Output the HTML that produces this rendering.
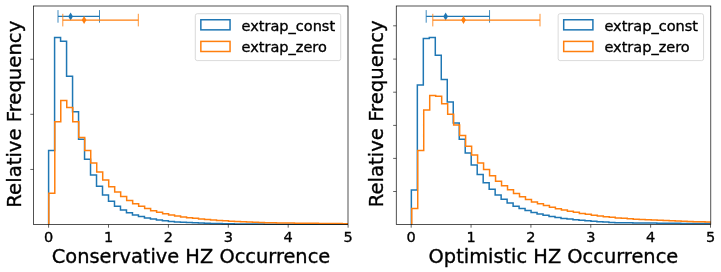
<!DOCTYPE html><html><head><meta charset="utf-8"><title>HZ Occurrence</title><style>html,body{margin:0;padding:0;background:#fff}svg{display:block}svg text{stroke:#000;stroke-width:.35px;stroke-linejoin:round}</style></head><body><svg width="721" height="272" viewBox="0 0 721 272" font-family="'DejaVu Sans', 'Liberation Sans', sans-serif" fill="#000"><rect width="721" height="272" fill="#fff"/><clipPath id="c1"><rect x="33.4" y="6.0" width="314.6" height="219.4"/></clipPath><g clip-path="url(#c1)" fill="none" stroke-linejoin="miter"><path d="M48.60,224.60 L48.60,150.50 L54.59,150.50 L54.59,37.50 L60.58,37.50 L60.58,41.25 L66.57,41.25 L66.57,76.25 L72.56,76.25 L72.56,111.75 L78.55,111.75 L78.55,139.25 L84.54,139.25 L84.54,159.25 L90.53,159.25 L90.53,175.00 L96.52,175.00 L96.52,186.25 L102.51,186.25 L102.51,195.00 L108.50,195.00 L108.50,201.20 L114.49,201.20 L114.49,206.20 L120.48,206.20 L120.48,210.00 L126.47,210.00 L126.47,212.80 L132.46,212.80 L132.46,214.90 L138.45,214.90 L138.45,216.50 L144.44,216.50 L144.44,217.90 L150.43,217.90 L150.43,219.05 L156.42,219.05 L156.42,220.00 L162.41,220.00 L162.41,220.70 L168.40,220.70 L168.40,221.40 L174.39,221.40 L174.39,222.00 L180.38,222.00 L180.38,222.32 L186.37,222.32 L186.37,222.60 L192.36,222.60 L192.36,222.84 L198.35,222.84 L198.35,223.06 L204.34,223.06 L204.34,223.25 L210.33,223.25 L210.33,223.42 L216.32,223.42 L216.32,223.56 L222.31,223.56 L222.31,223.69 L228.30,223.69 L228.30,223.80 L234.29,223.80 L234.29,223.88 L240.28,223.88 L240.28,223.94 L246.27,223.94 L246.27,224.01 L252.26,224.01 L252.26,224.06 L258.25,224.06 L258.25,224.11 L264.24,224.11 L264.24,224.16 L270.23,224.16 L270.23,224.20 L276.22,224.20 L276.22,224.22 L282.21,224.22 L282.21,224.23 L288.20,224.23 L288.20,224.24 L294.19,224.24 L294.19,224.26 L300.18,224.26 L300.18,224.27 L306.17,224.27 L306.17,224.28 L312.16,224.28 L312.16,224.30 L318.15,224.30 L318.15,224.31 L324.14,224.31 L324.14,224.32 L330.13,224.32 L330.13,224.33 L336.12,224.33 L336.12,224.34 L342.11,224.34 L342.11,224.35 L348.10,224.35 L348.10,224.60" stroke="#1f77b4" stroke-width="1.5"/><path d="M48.80,224.60 L48.80,193.25 L54.79,193.25 L54.79,121.75 L60.78,121.75 L60.78,100.50 L66.77,100.50 L66.77,107.50 L72.76,107.50 L72.76,121.75 L78.75,121.75 L78.75,137.50 L84.74,137.50 L84.74,150.50 L90.73,150.50 L90.73,163.00 L96.72,163.00 L96.72,172.00 L102.71,172.00 L102.71,180.00 L108.70,180.00 L108.70,186.75 L114.69,186.75 L114.69,192.00 L120.68,192.00 L120.68,196.50 L126.67,196.50 L126.67,200.40 L132.66,200.40 L132.66,203.70 L138.65,203.70 L138.65,206.30 L144.64,206.30 L144.64,208.60 L150.63,208.60 L150.63,210.70 L156.62,210.70 L156.62,212.30 L162.61,212.30 L162.61,213.70 L168.60,213.70 L168.60,214.90 L174.59,214.90 L174.59,216.00 L180.58,216.00 L180.58,217.00 L186.57,217.00 L186.57,217.70 L192.56,217.70 L192.56,218.36 L198.55,218.36 L198.55,218.96 L204.54,218.96 L204.54,219.51 L210.53,219.51 L210.53,220.00 L216.52,220.00 L216.52,220.44 L222.51,220.44 L222.51,220.84 L228.50,220.84 L228.50,221.20 L234.49,221.20 L234.49,221.51 L240.48,221.51 L240.48,221.79 L246.47,221.79 L246.47,222.04 L252.46,222.04 L252.46,222.27 L258.45,222.27 L258.45,222.48 L264.44,222.48 L264.44,222.68 L270.43,222.68 L270.43,222.85 L276.42,222.85 L276.42,222.94 L282.41,222.94 L282.41,223.02 L288.40,223.02 L288.40,223.10 L294.39,223.10 L294.39,223.17 L300.38,223.17 L300.38,223.24 L306.37,223.24 L306.37,223.31 L312.36,223.31 L312.36,223.37 L318.35,223.37 L318.35,223.44 L324.34,223.44 L324.34,223.49 L330.33,223.49 L330.33,223.55 L336.32,223.55 L336.32,223.60 L342.31,223.60 L342.31,223.65 L348.30,223.65 L348.30,224.60" stroke="#ff7f0e" stroke-width="1.5"/></g><rect x="33.4" y="6.0" width="314.6" height="218.6" fill="none" stroke="#000" stroke-width="0.68"/><line x1="58.0" y1="16.4" x2="99.5" y2="16.4" stroke="#1f77b4" stroke-width="1.35"/><line x1="58.0" y1="10.099999999999998" x2="58.0" y2="22.7" stroke="#1f77b4" stroke-width="0.85"/><line x1="99.5" y1="10.099999999999998" x2="99.5" y2="22.7" stroke="#1f77b4" stroke-width="0.85"/><path d="M70.60,12.40 L72.95,16.40 L70.60,20.40 L68.25,16.40 Z" fill="#1f77b4"/><line x1="62.8" y1="20.1" x2="138.3" y2="20.1" stroke="#ff7f0e" stroke-width="1.35"/><line x1="62.8" y1="13.8" x2="62.8" y2="26.400000000000002" stroke="#ff7f0e" stroke-width="0.85"/><line x1="138.3" y1="13.8" x2="138.3" y2="26.400000000000002" stroke="#ff7f0e" stroke-width="0.85"/><path d="M84.10,16.10 L86.45,20.10 L84.10,24.10 L81.75,20.10 Z" fill="#ff7f0e"/><line x1="48.60" y1="224.6" x2="48.60" y2="227.7" stroke="#000" stroke-width="0.62"/><text x="48.60" y="242.0" text-anchor="middle" font-size="14.5">0</text><line x1="108.50" y1="224.6" x2="108.50" y2="227.7" stroke="#000" stroke-width="0.62"/><text x="108.50" y="242.0" text-anchor="middle" font-size="14.5">1</text><line x1="168.40" y1="224.6" x2="168.40" y2="227.7" stroke="#000" stroke-width="0.62"/><text x="168.40" y="242.0" text-anchor="middle" font-size="14.5">2</text><line x1="228.30" y1="224.6" x2="228.30" y2="227.7" stroke="#000" stroke-width="0.62"/><text x="228.30" y="242.0" text-anchor="middle" font-size="14.5">3</text><line x1="288.20" y1="224.6" x2="288.20" y2="227.7" stroke="#000" stroke-width="0.62"/><text x="288.20" y="242.0" text-anchor="middle" font-size="14.5">4</text><line x1="348.10" y1="224.6" x2="348.10" y2="227.7" stroke="#000" stroke-width="0.62"/><text x="348.10" y="242.0" text-anchor="middle" font-size="14.5">5</text><line x1="30.299999999999997" y1="59.25" x2="33.4" y2="59.25" stroke="#000" stroke-width="0.62"/><line x1="30.299999999999997" y1="114.3" x2="33.4" y2="114.3" stroke="#000" stroke-width="0.62"/><line x1="30.299999999999997" y1="169.45" x2="33.4" y2="169.45" stroke="#000" stroke-width="0.62"/><text x="191.00" y="263.0" text-anchor="middle" font-size="19.4">Conservative HZ Occurrence</text><text transform="translate(20.90,114.20) rotate(-90)" text-anchor="middle" font-size="19.65">Relative Frequency</text><rect x="195.30" y="13.7" width="145.4" height="46.9" rx="2" ry="2" fill="#fff" fill-opacity="0.8" stroke="#ccc" stroke-opacity="0.8" stroke-width="0.9"/><rect x="200.85" y="19.75" width="29.2" height="10.1" fill="none" stroke="#1f77b4" stroke-width="1.5"/><rect x="200.85" y="41.4" width="29.2" height="10.1" fill="none" stroke="#ff7f0e" stroke-width="1.5"/><text x="241.60" y="30.5" font-size="14.5">extrap_const</text><text x="241.60" y="52.2" font-size="14.5">extrap_zero</text><clipPath id="c2"><rect x="396.25" y="6.0" width="314.54999999999995" height="219.4"/></clipPath><g clip-path="url(#c2)" fill="none" stroke-linejoin="miter"><path d="M411.35,224.60 L411.35,190.00 L417.34,190.00 L417.34,85.00 L423.32,85.00 L423.32,38.60 L429.31,38.60 L429.31,37.40 L435.29,37.40 L435.29,55.25 L441.28,55.25 L441.28,79.50 L447.27,79.50 L447.27,102.00 L453.25,102.00 L453.25,123.00 L459.24,123.00 L459.24,139.25 L465.22,139.25 L465.22,153.00 L471.21,153.00 L471.21,165.00 L477.20,165.00 L477.20,174.60 L483.18,174.60 L483.18,182.70 L489.17,182.70 L489.17,189.30 L495.15,189.30 L495.15,194.90 L501.14,194.90 L501.14,199.30 L507.13,199.30 L507.13,203.00 L513.11,203.00 L513.11,206.20 L519.10,206.20 L519.10,208.40 L525.08,208.40 L525.08,210.60 L531.07,210.60 L531.07,212.40 L537.06,212.40 L537.06,214.00 L543.04,214.00 L543.04,215.30 L549.03,215.30 L549.03,216.50 L555.01,216.50 L555.01,217.50 L561.00,217.50 L561.00,218.40 L566.99,218.40 L566.99,219.00 L572.97,219.00 L572.97,219.70 L578.96,219.70 L578.96,220.20 L584.94,220.20 L584.94,220.80 L590.93,220.80 L590.93,221.30 L596.92,221.30 L596.92,221.70 L602.90,221.70 L602.90,222.10 L608.89,222.10 L608.89,222.40 L614.87,222.40 L614.87,222.70 L620.86,222.70 L620.86,222.77 L626.85,222.77 L626.85,222.83 L632.83,222.83 L632.83,222.89 L638.82,222.89 L638.82,222.95 L644.80,222.95 L644.80,223.02 L650.79,223.02 L650.79,223.09 L656.78,223.09 L656.78,223.16 L662.76,223.16 L662.76,223.22 L668.75,223.22 L668.75,223.29 L674.73,223.29 L674.73,223.34 L680.72,223.34 L680.72,223.40 L686.71,223.40 L686.71,223.45 L692.69,223.45 L692.69,223.50 L698.68,223.50 L698.68,223.55 L704.66,223.55 L704.66,223.60 L710.65,223.60 L710.65,224.60" stroke="#1f77b4" stroke-width="1.5"/><path d="M411.75,224.60 L411.75,208.50 L417.74,208.50 L417.74,150.50 L423.72,150.50 L423.72,110.00 L429.71,110.00 L429.71,95.50 L435.69,95.50 L435.69,96.25 L441.68,96.25 L441.68,103.75 L447.67,103.75 L447.67,114.25 L453.65,114.25 L453.65,125.00 L459.64,125.00 L459.64,135.50 L465.62,135.50 L465.62,146.25 L471.61,146.25 L471.61,155.00 L477.60,155.00 L477.60,163.00 L483.58,163.00 L483.58,169.50 L489.57,169.50 L489.57,175.75 L495.55,175.75 L495.55,181.25 L501.54,181.25 L501.54,185.70 L507.53,185.70 L507.53,189.70 L513.51,189.70 L513.51,193.40 L519.50,193.40 L519.50,196.70 L525.48,196.70 L525.48,199.50 L531.47,199.50 L531.47,202.00 L537.46,202.00 L537.46,203.70 L543.44,203.70 L543.44,205.50 L549.43,205.50 L549.43,207.20 L555.41,207.20 L555.41,208.70 L561.40,208.70 L561.40,210.10 L567.39,210.10 L567.39,211.30 L573.37,211.30 L573.37,212.35 L579.36,212.35 L579.36,213.45 L585.34,213.45 L585.34,214.30 L591.33,214.30 L591.33,215.20 L597.32,215.20 L597.32,216.00 L603.30,216.00 L603.30,216.70 L609.29,216.70 L609.29,217.30 L615.27,217.30 L615.27,217.90 L621.26,217.90 L621.26,218.34 L627.25,218.34 L627.25,218.75 L633.23,218.75 L633.23,219.14 L639.22,219.14 L639.22,219.50 L645.20,219.50 L645.20,219.80 L651.19,219.80 L651.19,220.09 L657.18,220.09 L657.18,220.36 L663.16,220.36 L663.16,220.61 L669.15,220.61 L669.15,220.85 L675.13,220.85 L675.13,221.07 L681.12,221.07 L681.12,221.28 L687.11,221.28 L687.11,221.48 L693.09,221.48 L693.09,221.66 L699.08,221.66 L699.08,221.84 L705.06,221.84 L705.06,222.00 L711.05,222.00 L711.05,224.60" stroke="#ff7f0e" stroke-width="1.5"/></g><rect x="396.25" y="6.0" width="314.54999999999995" height="218.6" fill="none" stroke="#000" stroke-width="0.68"/><line x1="426.2" y1="16.4" x2="489.55" y2="16.4" stroke="#1f77b4" stroke-width="1.35"/><line x1="426.2" y1="10.099999999999998" x2="426.2" y2="22.7" stroke="#1f77b4" stroke-width="0.85"/><line x1="489.55" y1="10.099999999999998" x2="489.55" y2="22.7" stroke="#1f77b4" stroke-width="0.85"/><path d="M445.65,12.40 L448.00,16.40 L445.65,20.40 L443.30,16.40 Z" fill="#1f77b4"/><line x1="432.8" y1="20.1" x2="540.0" y2="20.1" stroke="#ff7f0e" stroke-width="1.35"/><line x1="432.8" y1="13.8" x2="432.8" y2="26.400000000000002" stroke="#ff7f0e" stroke-width="0.85"/><line x1="540.0" y1="13.8" x2="540.0" y2="26.400000000000002" stroke="#ff7f0e" stroke-width="0.85"/><path d="M463.50,16.10 L465.85,20.10 L463.50,24.10 L461.15,20.10 Z" fill="#ff7f0e"/><line x1="411.20" y1="224.6" x2="411.20" y2="227.7" stroke="#000" stroke-width="0.62"/><text x="411.20" y="242.0" text-anchor="middle" font-size="14.5">0</text><line x1="471.06" y1="224.6" x2="471.06" y2="227.7" stroke="#000" stroke-width="0.62"/><text x="471.06" y="242.0" text-anchor="middle" font-size="14.5">1</text><line x1="530.92" y1="224.6" x2="530.92" y2="227.7" stroke="#000" stroke-width="0.62"/><text x="530.92" y="242.0" text-anchor="middle" font-size="14.5">2</text><line x1="590.78" y1="224.6" x2="590.78" y2="227.7" stroke="#000" stroke-width="0.62"/><text x="590.78" y="242.0" text-anchor="middle" font-size="14.5">3</text><line x1="650.64" y1="224.6" x2="650.64" y2="227.7" stroke="#000" stroke-width="0.62"/><text x="650.64" y="242.0" text-anchor="middle" font-size="14.5">4</text><line x1="710.50" y1="224.6" x2="710.50" y2="227.7" stroke="#000" stroke-width="0.62"/><text x="710.50" y="242.0" text-anchor="middle" font-size="14.5">5</text><line x1="393.15" y1="25.8" x2="396.25" y2="25.8" stroke="#000" stroke-width="0.62"/><line x1="393.15" y1="59.1" x2="396.25" y2="59.1" stroke="#000" stroke-width="0.62"/><line x1="393.15" y1="92.2" x2="396.25" y2="92.2" stroke="#000" stroke-width="0.62"/><line x1="393.15" y1="125.4" x2="396.25" y2="125.4" stroke="#000" stroke-width="0.62"/><line x1="393.15" y1="158.4" x2="396.25" y2="158.4" stroke="#000" stroke-width="0.62"/><line x1="393.15" y1="191.5" x2="396.25" y2="191.5" stroke="#000" stroke-width="0.62"/><text x="553.42" y="263.0" text-anchor="middle" font-size="19.4">Optimistic HZ Occurrence</text><text transform="translate(382.75,113.80) rotate(-90)" text-anchor="middle" font-size="19.65">Relative Frequency</text><rect x="558.15" y="13.7" width="145.4" height="46.9" rx="2" ry="2" fill="#fff" fill-opacity="0.8" stroke="#ccc" stroke-opacity="0.8" stroke-width="0.9"/><rect x="563.70" y="19.75" width="29.2" height="10.1" fill="none" stroke="#1f77b4" stroke-width="1.5"/><rect x="563.70" y="41.4" width="29.2" height="10.1" fill="none" stroke="#ff7f0e" stroke-width="1.5"/><text x="604.45" y="30.5" font-size="14.5">extrap_const</text><text x="604.45" y="52.2" font-size="14.5">extrap_zero</text></svg></body></html>
